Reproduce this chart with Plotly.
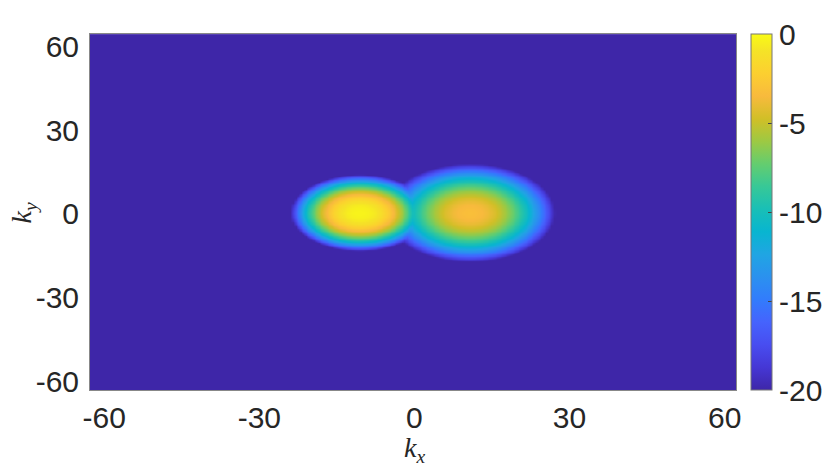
"""Espectro em escala log (kx, ky): dois lobulos gaussianos, cortado em -20."""

import numpy as np
import plotly.graph_objects as go

# eixos da grade (passo 0.5)
KX_LIMITES = (-63.0, 63.0)
KY_LIMITES = (-64.0, 64.0)
PASSO = 0.5

# lobulos: centro, pico, raio onde cruza o piso, expoente do perfil
LOBULO_KX = [-10.6, 10.7]
LOBULO_KY = [0.5, 0.5]
LOBULO_PICO = [-0.3, -3.2]
LOBULO_RAIO_X = [13.4, 16.4]
LOBULO_RAIO_Y = [13.6, 17.5]
LOBULO_EXPOENTE = [2.5, 2.1]
PISO = -20.0

TICKS_EIXO = [-60, -30, 0, 30, 60]
TICKS_BARRA = [-20, -15, -10, -5, 0]

# parula (amostrado de 4 em 4 linhas do mapa de 64 cores)
PARULA = [
    (0, "rgb(62,38,168)"),
    (4, "rgb(69,55,213)"),
    (8, "rgb(72,77,240)"),
    (12, "rgb(69,99,253)"),
    (16, "rgb(50,124,252)"),
    (20, "rgb(43,145,239)"),
    (24, "rgb(32,165,227)"),
    (28, "rgb(8,181,208)"),
    (32, "rgb(25,191,182)"),
    (36, "rgb(55,200,151)"),
    (40, "rgb(100,205,111)"),
    (44, "rgb(157,201,67)"),
    (48, "rgb(209,191,39)"),
    (52, "rgb(248,186,61)"),
    (56, "rgb(252,207,48)"),
    (60, "rgb(245,227,39)"),
    (63, "rgb(249,251,21)"),
]
ESCALA = [[linha / 63, cor] for linha, cor in PARULA]

kx = np.arange(KX_LIMITES[0], KX_LIMITES[1] + PASSO / 2, PASSO)
ky = np.arange(KY_LIMITES[0], KY_LIMITES[1] + PASSO / 2, PASSO)
KX, KY = np.meshgrid(kx, ky)

soma = np.zeros_like(KX)
for cx, cy, pico, rx, ry, q in zip(
    LOBULO_KX, LOBULO_KY, LOBULO_PICO, LOBULO_RAIO_X, LOBULO_RAIO_Y, LOBULO_EXPOENTE
):
    r = np.sqrt(((KX - cx) / rx) ** 2 + ((KY - cy) / ry) ** 2)
    nivel = pico - (pico - PISO) * r**q
    soma += 10.0 ** np.maximum(nivel, 3 * PISO)
z = np.clip(np.log10(soma), PISO, 0.0).round(3)

FONTE = "Liberation Sans, Arial, sans-serif"
FONTE_MAT = "Liberation Serif, DejaVu Serif, serif"
TAM = 30

fig = go.Figure(
    go.Heatmap(
        x=kx,
        y=ky,
        z=z,
        zmin=PISO,
        zmax=0,
        zsmooth="best",
        colorscale=ESCALA,
        hovertemplate="kx=%{x}<br>ky=%{y}<br>%{z:.2f}<extra></extra>",
        colorbar=dict(
            x=1.0228,
            xanchor="left",
            xpad=0,
            y=0.5,
            yanchor="middle",
            ypad=0,
            len=1,
            lenmode="fraction",
            thickness=21,
            thicknessmode="pixels",
            outlinewidth=1,
            outlinecolor="#777777",
            tickvals=TICKS_BARRA,
            ticktext=[str(v) for v in TICKS_BARRA],
            ticks="inside",
            ticklen=4,
            tickcolor="#444444",
            tickfont=dict(family=FONTE, size=TAM, color="#262626"),
        ),
    )
)

eixo = dict(
    showgrid=False,
    zeroline=False,
    showline=True,
    mirror=True,
    linecolor="#888888",
    linewidth=1,
    ticks="",
    automargin=False,
    tickvals=TICKS_EIXO,
    ticktext=[str(v) for v in TICKS_EIXO],
    tickfont=dict(family=FONTE, size=TAM, color="#262626"),
)

fig.update_xaxes(eixo, range=[-62.75, 62.2], ticklabelstandoff=1)
fig.update_yaxes(eixo, range=[-62.9, 64.3], ticklabelstandoff=4)

# rotulos dos eixos (k_x, k_y) posicionados como no original
fig.add_annotation(
    text="<i>k</i><sub><i>x</i></sub>",
    xref="paper", yref="paper", x=0.502, y=-0.166,
    xanchor="center", yanchor="middle", showarrow=False,
    font=dict(family=FONTE_MAT, size=28, color="#262626"),
)
fig.add_annotation(
    text="<i>k</i><sub><i>y</i></sub>",
    xref="paper", yref="paper", x=-0.103, y=0.497,
    xanchor="center", yanchor="middle", showarrow=False, textangle=-90,
    font=dict(family=FONTE_MAT, size=28, color="#262626"),
)

# a pagina tem 8 px de margem no body: figura 8 px menor e margens ajustadas
fig.update_layout(
    width=822,
    height=458,
    margin=dict(l=82, r=94, t=26, b=76, autoexpand=False),
    paper_bgcolor="white",
    plot_bgcolor="white",
    showlegend=False,
)

fig.write_html("out.html")
